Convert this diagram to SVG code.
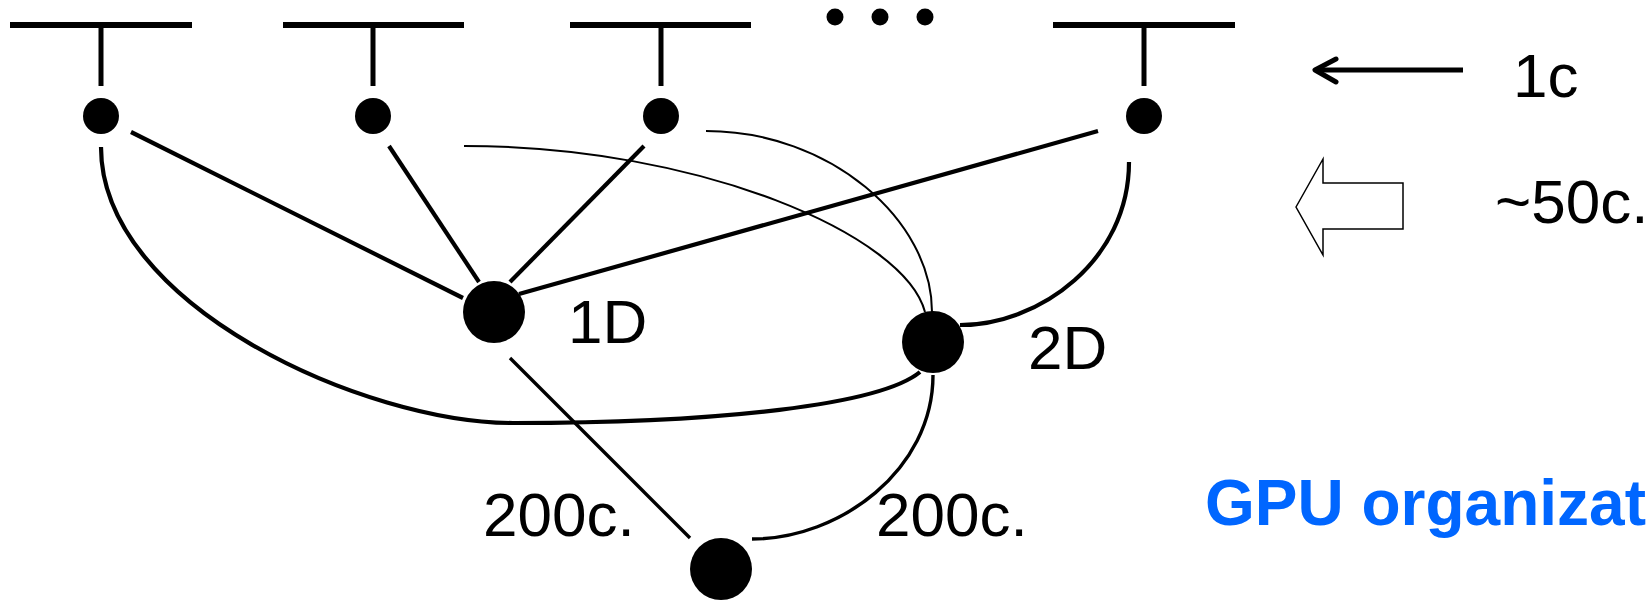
<svg xmlns="http://www.w3.org/2000/svg" width="1648" height="600" viewBox="0 0 1648 600">
<style>
.bar{stroke:#000;stroke-width:6;fill:none}
.stem{stroke:#000;stroke-width:5;fill:none}
.dot{fill:#000}
.thick{stroke:#000;stroke-width:4.2;fill:none}
.mid{stroke:#000;stroke-width:3.4;fill:none}
.thin{stroke:#000;stroke-width:2;fill:none}
.lbl{font-family:"Liberation Sans",Arial,sans-serif;font-size:62px;fill:#000}
.title{font-family:"Liberation Sans",Arial,sans-serif;font-size:64px;font-weight:bold;fill:#0066FF}
</style>
<rect width="1648" height="600" fill="#fff"/>
<g id="connectors">
<line class="thick" x1="131" y1="132" x2="463" y2="298"/>
<line class="thick" x1="389" y1="146" x2="479" y2="282"/>
<line class="thick" x1="644" y1="146" x2="510" y2="282"/>
<line class="thick" x1="1098" y1="131" x2="519" y2="294"/>
<line class="mid" x1="510" y1="358" x2="690" y2="538"/>
<path class="thick" d="M101,147 C101,305 365,424 515,423 C720,423 880,405 920,372"/>
<path class="thin" d="M464,146 C700,146 905,235 925,312"/>
<path class="thin" d="M706,131 C830,131 932,220 932,312"/>
<path class="thick" d="M1129,162 C1129,260 1040,325 960,325"/>
<path class="mid" d="M933,375 C933,470 840,539 752,539"/>
</g>
<g id="t1"><line class="bar" x1="10" y1="25" x2="192" y2="25"/><line class="stem" x1="101" y1="28" x2="101" y2="86"/><circle class="dot" cx="101" cy="116" r="18"/></g>
<g id="t2"><line class="bar" x1="283" y1="25" x2="464" y2="25"/><line class="stem" x1="373" y1="28" x2="373" y2="86"/><circle class="dot" cx="373" cy="116" r="18"/></g>
<g id="t3"><line class="bar" x1="570" y1="25" x2="751" y2="25"/><line class="stem" x1="661" y1="28" x2="661" y2="86"/><circle class="dot" cx="661" cy="116" r="18"/></g>
<g id="ellipsis"><circle class="dot" cx="835" cy="17" r="8.5"/><circle class="dot" cx="880" cy="17" r="8.5"/><circle class="dot" cx="925" cy="17" r="8.5"/></g>
<g id="t4"><line class="bar" x1="1053" y1="25" x2="1235" y2="25"/><line class="stem" x1="1144" y1="28" x2="1144" y2="86"/><circle class="dot" cx="1144" cy="116" r="18"/></g>
<g id="n1D"><circle class="dot" cx="494" cy="312" r="31"/><text class="lbl" x="568" y="343">1D</text></g>
<g id="n2D"><circle class="dot" cx="933" cy="342" r="31"/><text class="lbl" x="1028" y="369">2D</text></g>
<g id="nBottom"><circle class="dot" cx="721" cy="569" r="31"/></g>
<g id="labels">
<text class="lbl" x="483" y="536">200c.</text>
<text class="lbl" x="876" y="536">200c.</text>
</g>
<g id="legend1c">
<line x1="1463" y1="70" x2="1318" y2="70" stroke="#000" stroke-width="5"/>
<polyline points="1336,59 1315,70 1336,82" fill="none" stroke="#000" stroke-width="5" stroke-linecap="round" stroke-linejoin="round"/>
<text class="lbl" x="1513" y="97">1c</text>
</g>
<g id="legend50c">
<polygon points="1296,207 1323,159 1323,183 1403,183 1403,229 1323,229 1323,255" fill="#fff" stroke="#000" stroke-width="1.5"/>
<text class="lbl" x="1495" y="223">~50c.</text>
</g>
<g id="title"><text class="title" x="1205" y="525">GPU organizat</text></g>
</svg>
